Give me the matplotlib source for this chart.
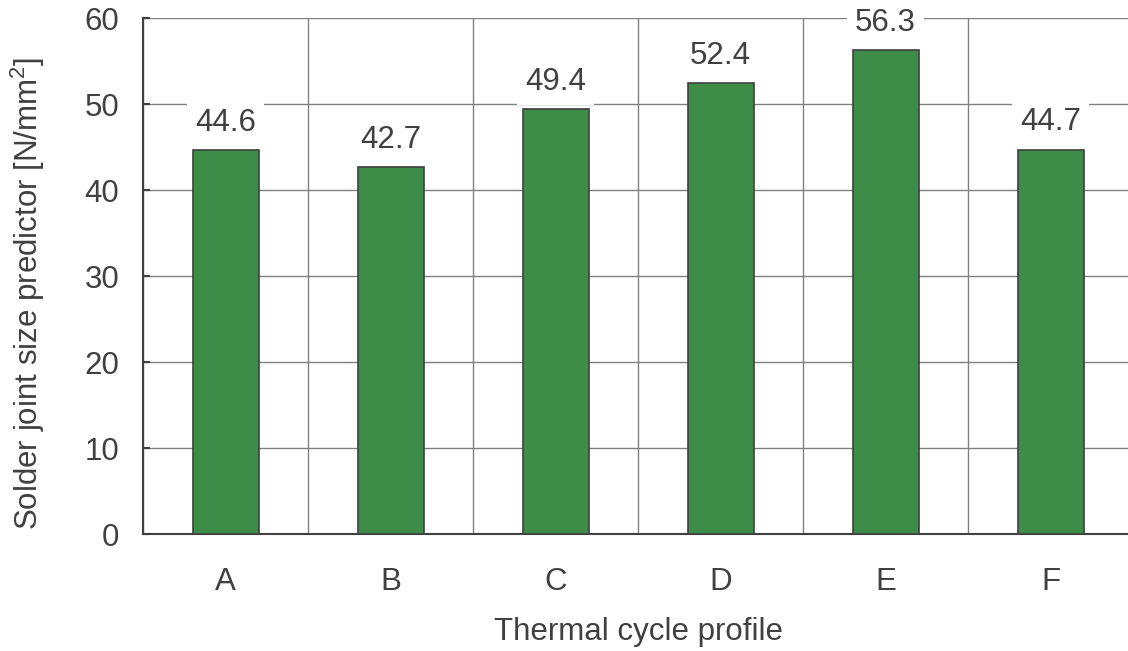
import matplotlib
matplotlib.use("Agg")
import matplotlib.pyplot as plt
import numpy as np

profiles = ["A", "B", "C", "D", "E", "F"]
predictor = [44.6, 42.7, 49.4, 52.4, 56.3, 44.7]
y_ticks = [0, 10, 20, 30, 40, 50, 60]

plt.rcParams["font.family"] = ["Liberation Sans", "DejaVu Sans"]
plt.rcParams["mathtext.fontset"] = "custom"
plt.rcParams["mathtext.rm"] = "Liberation Sans"
plt.rcParams["mathtext.it"] = "Liberation Sans"

text_col = "#404040"
grid_col = "#808080"
fs = 22.5

fig = plt.figure(figsize=(11.28, 6.51), dpi=100)
ax = fig.add_axes([143 / 1128, 1 - 534 / 651, 990 / 1128, 516 / 651])

x = np.arange(len(profiles))
ax.bar(x, predictor, width=0.4, color="#3d8c48", edgecolor="#404040",
       linewidth=1.2, zorder=3)

for xi, v in zip(x, predictor):
    ax.annotate("%.1f" % v, (xi, v), xytext=(0, 19.5), textcoords="offset points",
                ha="center", va="center", fontsize=fs, color=text_col,
                bbox=dict(boxstyle="square,pad=0.25", fc="white", ec="none"),
                zorder=4)

ax.set_xlim(-0.5, len(profiles) - 0.5)
ax.set_ylim(0, 60)
ax.set_yticks(y_ticks)
ax.set_xticks(x)
ax.set_xticklabels(profiles)

# category boundaries as vertical grid lines
ax.set_xticks(np.arange(len(profiles) + 1) - 0.5, minor=True)
ax.grid(axis="x", which="minor", color=grid_col, linewidth=1.0, zorder=0)
ax.grid(axis="y", which="major", color=grid_col, linewidth=1.0, zorder=0)

ax.tick_params(axis="y", which="major", direction="in", length=5, width=1.5,
               color="#404040", labelsize=fs, labelcolor=text_col, pad=17)
ax.tick_params(axis="x", which="major", length=0, labelsize=fs,
               labelcolor=text_col, pad=24)
ax.tick_params(axis="x", which="minor", length=0)

for side in ["top", "right"]:
    ax.spines[side].set_visible(False)
for side in ["left", "bottom"]:
    ax.spines[side].set_color("#404040")
    ax.spines[side].set_linewidth(1.5)

ax.set_xlabel("Thermal cycle profile", fontsize=fs, color=text_col, labelpad=14)
ax.set_ylabel(r"Solder joint size predictor [N/mm$^{\mathregular{2}}$]",
              fontsize=fs, color=text_col)
ax.yaxis.set_label_coords(-0.097, 0.467)

fig.savefig("out.png", dpi=100)
